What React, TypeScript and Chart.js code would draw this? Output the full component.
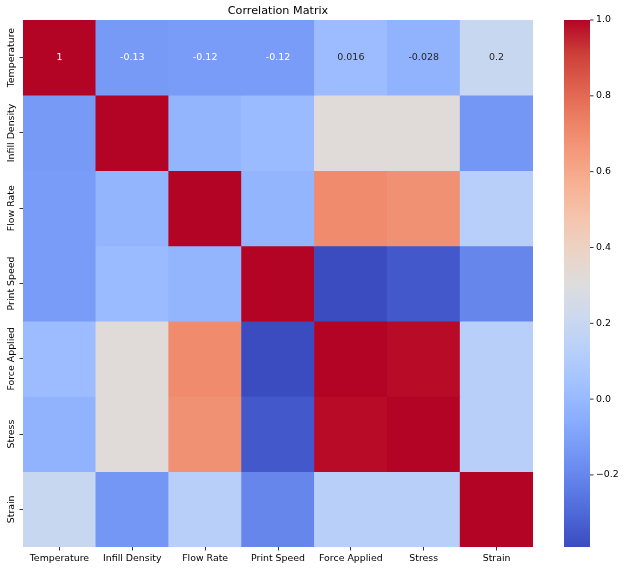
import React, { useEffect, useRef } from 'react';
import { Chart, registerables } from 'chart.js';

Chart.register(...registerables);

const labels = ['Temperature', 'Infill Density', 'Flow Rate', 'Print Speed', 'Force Applied', 'Stress', 'Strain'];

const rowTemperature = [1, -0.13, -0.12, -0.12, 0.016, -0.028, 0.2];
const rowInfillDensity = [-0.13, 1, -0.02, 0.01, 0.32, 0.32, -0.14];
const rowFlowRate = [-0.12, -0.02, 1, -0.02, 0.7, 0.68, 0.13];
const rowPrintSpeed = [-0.12, 0.01, -0.02, 1, -0.39, -0.35, -0.2];
const rowForceApplied = [0.016, 0.32, 0.7, -0.39, 1, 0.99, 0.13];
const rowStress = [-0.028, 0.32, 0.68, -0.35, 0.99, 1, 0.13];
const rowStrain = [0.2, -0.14, 0.13, -0.2, 0.13, 0.13, 1];

const matrix = [rowTemperature, rowInfillDensity, rowFlowRate, rowPrintSpeed, rowForceApplied, rowStress, rowStrain];
const annotatedRows = [0];
const colorbarTicks = [1.0, 0.8, 0.6, 0.4, 0.2, 0.0, -0.2];
const titleText = 'Correlation Matrix';

// matplotlib "coolwarm" samples
const coolwarm: [number, number, number][] = [
  [58, 76, 192], [77, 104, 215], [98, 130, 234], [119, 154, 247],
  [141, 176, 254], [163, 194, 255], [184, 208, 249], [204, 217, 238],
  [221, 221, 221], [236, 211, 197], [245, 196, 173], [247, 177, 148],
  [244, 154, 123], [236, 127, 99], [222, 96, 77], [203, 62, 56], [180, 4, 38],
];

const allVals = matrix.flat();
const vmin = Math.min(...allVals);
const vmax = Math.max(...allVals);

function cmapRGB(v: number): [number, number, number] {
  let t = (v - vmin) / (vmax - vmin);
  t = Math.max(0, Math.min(1, t));
  const n = coolwarm.length - 1;
  const p = t * n;
  const i = Math.min(n - 1, Math.floor(p));
  const f = p - i;
  const a = coolwarm[i], b = coolwarm[i + 1];
  return [0, 1, 2].map((k) => Math.round(a[k] + (b[k] - a[k]) * f)) as [number, number, number];
}
function cmap(v: number) {
  const [r, g, b] = cmapRGB(v);
  return `rgb(${r},${g},${b})`;
}
function lum(v: number) {
  const c = cmapRGB(v).map((x) => {
    const s = x / 255;
    return s <= 0.03928 ? s / 12.92 : Math.pow((s + 0.055) / 1.055, 2.4);
  });
  return 0.2126 * c[0] + 0.7152 * c[1] + 0.0722 * c[2];
}
function fmt2g(v: number) {
  return String(parseFloat(v.toPrecision(2)));
}

const FONT = '"DejaVu Sans", sans-serif';

const heatPlugin = {
  id: 'heatExtras',
  afterDatasetsDraw(chart: any) {
    const ctx = chart.ctx;
    const xs = chart.scales.x;
    const ys = chart.scales.y;
    ctx.save();
    ctx.font = `9.5px ${FONT}`;
    ctx.textAlign = 'center';
    ctx.textBaseline = 'middle';
    annotatedRows.forEach((r) => {
      matrix[r].forEach((v, c) => {
        ctx.fillStyle = lum(v) > 0.408 ? '#262626' : '#ffffff';
        ctx.fillText(fmt2g(v), xs.getPixelForValue(c), ys.getPixelForValue(r + 0.5));
      });
    });
    ctx.restore();
  },
  afterDraw(chart: any) {
    const ctx = chart.ctx;
    const area = chart.chartArea;
    const ys = chart.scales.y;
    ctx.save();
    // title
    ctx.fillStyle = '#000';
    ctx.font = `11.2px ${FONT}`;
    ctx.textAlign = 'center';
    ctx.textBaseline = 'middle';
    ctx.fillText(titleText, (area.left + area.right) / 2, 11);

    // y labels (rotated)
    ctx.font = `9.4px ${FONT}`;
    labels.forEach((lab, r) => {
      ctx.save();
      ctx.translate(11.5, ys.getPixelForValue(r + 0.5));
      ctx.rotate(-Math.PI / 2);
      ctx.fillText(lab, 0, 0);
      ctx.restore();
    });

    // colorbar
    const cbLeft = area.right + 31;
    const cbW = 26;
    const top = area.top;
    const bottom = area.bottom;
    const grad = ctx.createLinearGradient(0, top, 0, bottom);
    coolwarm.forEach((c, i) => {
      grad.addColorStop(1 - i / (coolwarm.length - 1), `rgb(${c[0]},${c[1]},${c[2]})`);
    });
    ctx.fillStyle = grad;
    ctx.fillRect(cbLeft, top, cbW, bottom - top);
    ctx.strokeStyle = '#000';
    ctx.lineWidth = 0.8;
    ctx.fillStyle = '#000';
    ctx.textAlign = 'left';
    ctx.textBaseline = 'middle';
    colorbarTicks.forEach((v) => {
      const y = top + ((vmax - v) / (vmax - vmin)) * (bottom - top);
      ctx.beginPath();
      ctx.moveTo(cbLeft + cbW, y);
      ctx.lineTo(cbLeft + cbW + 3.5, y);
      ctx.stroke();
      ctx.fillText(v.toFixed(1).replace('-', '\u2212'), cbLeft + cbW + 6, y);
    });
    ctx.restore();
  },
};

export default function App() {
  const ref = useRef<HTMLCanvasElement>(null);
  useEffect(() => {
    document.body.style.margin = '0';
    const datasets = matrix.map((row, r) => ({
      label: labels[r],
      data: row.map(() => [r, r + 1]),
      backgroundColor: row.map((v) => cmap(v)),
      borderWidth: 0,
      barPercentage: 1,
      categoryPercentage: 1,
      grouped: false,
    }));
    const chart = new Chart(ref.current as HTMLCanvasElement, {
      type: 'bar',
      data: { labels, datasets: datasets as any },
      options: {
        animation: false,
        responsive: false,
        events: [],
        layout: { padding: { top: 20, right: 94, left: 0, bottom: 0 } },
        plugins: { legend: { display: false }, tooltip: { enabled: false }, title: { display: false } },
        scales: {
          x: {
            type: 'category',
            offset: true,
            border: { display: false },
            grid: { drawOnChartArea: false, drawTicks: true, tickLength: 3.5, color: '#000', lineWidth: 0.8, offset: false },
            ticks: { color: '#000', font: { family: 'DejaVu Sans', size: 9.4 }, padding: 2, maxRotation: 0, minRotation: 0, autoSkip: false },
            afterFit: (s: any) => { s.height = 24; },
          },
          y: {
            type: 'linear',
            min: 0,
            max: 7,
            reverse: true,
            border: { display: false },
            grid: { drawOnChartArea: false, drawTicks: true, tickLength: 3.5, color: '#000', lineWidth: 0.8 },
            ticks: { display: false },
            afterBuildTicks: (s: any) => { s.ticks = labels.map((_, i) => ({ value: i + 0.5 })); },
            afterFit: (s: any) => { s.width = 23; },
          },
        },
      },
      plugins: [heatPlugin],
    });
    return () => chart.destroy();
  }, []);
  return (
    <div style={{ width: 627, height: 571, background: '#fff' }}>
      <canvas ref={ref} width={627} height={571} style={{ display: 'block' }} />
    </div>
  );
}
